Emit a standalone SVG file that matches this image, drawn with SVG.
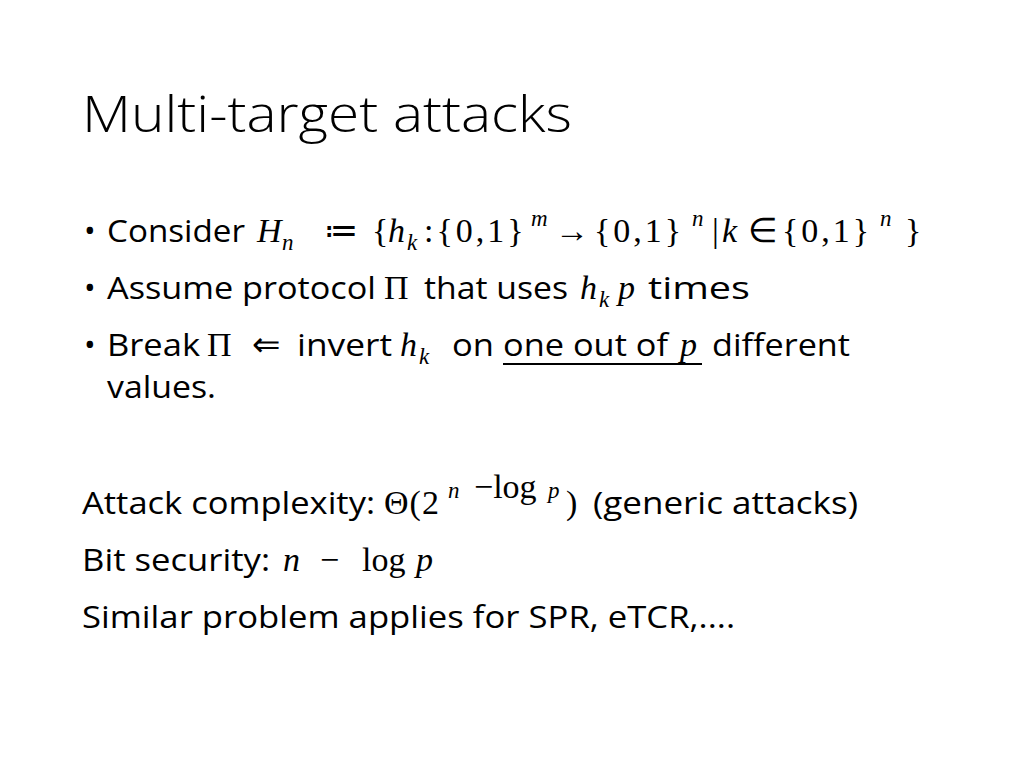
<svg xmlns="http://www.w3.org/2000/svg" width="1024" height="768" viewBox="0 0 1024 768">
<style>
.t{font-family:"Open Sans","Liberation Sans",sans-serif;font-size:31px;fill:#000}
.i{font-family:"Liberation Serif","DejaVu Serif",serif;font-style:italic;font-size:34px;fill:#000}
.s{font-family:"Liberation Serif",serif;font-style:italic;font-size:23px;fill:#000}
.r{font-family:"Liberation Serif",serif;font-size:34px;fill:#000}
.w{letter-spacing:3px}
</style>
<rect width="1024" height="768" fill="#fff"/>
<text x="82" y="132" font-family="Open Sans,Liberation Sans,sans-serif" font-weight="300" font-size="50" textLength="490" lengthAdjust="spacingAndGlyphs">Multi-target attacks</text>
<g id="line1">
<text class="t" x="84" y="242">•</text>
<text class="t" x="107" y="242" textLength="138" lengthAdjust="spacingAndGlyphs">Consider</text>
<text class="i" x="257" y="242">H</text><text class="s" x="282" y="250">n</text>
<text class="r" x="324" y="242">≔</text>
<text class="r" x="372" y="242">{</text><text class="i" x="388" y="242">h</text><text class="s" x="407" y="250">k</text>
<text class="r w" x="424" y="242">:{0,1}</text><text class="s" x="531" y="226">m</text>
<text class="r" x="555" y="242" font-size="40">→</text>
<text class="r w" x="594" y="242">{0,1}</text><text class="s" x="692" y="226">n</text>
<text class="r" x="712" y="242">|</text><text class="i" x="722" y="242">k</text>
<text class="r" x="748" y="242">∈</text>
<text class="r w" x="782" y="242">{0,1}</text><text class="s" x="880" y="226">n</text>
<text class="r" x="905" y="242">}</text>
</g>
<g id="line2">
<text class="t" x="84" y="299">•</text>
<text class="t" x="107" y="299" textLength="269" lengthAdjust="spacingAndGlyphs">Assume protocol</text>
<text class="r" x="384" y="299">Π</text>
<text class="t" x="424" y="299" textLength="144" lengthAdjust="spacingAndGlyphs">that uses</text>
<text class="i" x="580" y="299">h</text><text class="s" x="599" y="307">k</text>
<text class="i" x="618" y="299">p</text>
<text class="t" x="648" y="299" textLength="102" lengthAdjust="spacingAndGlyphs">times</text>
</g>
<g id="line3">
<text class="t" x="84" y="356">•</text>
<text class="t" x="107" y="356" textLength="93" lengthAdjust="spacingAndGlyphs">Break</text>
<text class="r" x="207" y="356">Π</text>
<text class="r" x="252" y="356" font-size="38">⇐</text>
<text class="t" x="297" y="356" textLength="95" lengthAdjust="spacingAndGlyphs">invert</text>
<text class="i" x="400" y="356">h</text><text class="s" x="419" y="364">k</text>
<text class="t" x="452" y="356" textLength="42" lengthAdjust="spacingAndGlyphs">on</text>
<text class="t" x="503" y="356" textLength="165" lengthAdjust="spacingAndGlyphs">one out of</text>
<text class="i" x="680" y="356">p</text>
<line x1="503" y1="364" x2="702" y2="364" stroke="#000" stroke-width="2"/>
<text class="t" x="712" y="356" textLength="138" lengthAdjust="spacingAndGlyphs">different</text>
<text class="t" x="107" y="398" textLength="109" lengthAdjust="spacingAndGlyphs">values.</text>
</g>
<g id="line5">
<text class="t" x="82" y="514" textLength="293" lengthAdjust="spacingAndGlyphs">Attack complexity:</text>
<text class="r" x="384" y="514" letter-spacing="1">Θ(2</text>
<text class="s" x="448" y="498">n</text>
<text class="r" x="474" y="498" font-size="23">−log</text><text class="s" x="548" y="498">p</text>
<text class="r" x="566" y="514">)</text>
<text class="t" x="593" y="514" textLength="265" lengthAdjust="spacingAndGlyphs">(generic attacks)</text>
</g>
<g id="line6">
<text class="t" x="82" y="571" textLength="188" lengthAdjust="spacingAndGlyphs">Bit security:</text>
<text class="i" x="283" y="571">n</text>
<text class="r" x="320" y="571">−</text>
<text class="r" x="362" y="571">log</text>
<text class="i" x="416" y="571">p</text>
</g>
<text class="t" x="82" y="628" textLength="653" lengthAdjust="spacingAndGlyphs">Similar problem applies for SPR, eTCR,....</text>
</svg>
